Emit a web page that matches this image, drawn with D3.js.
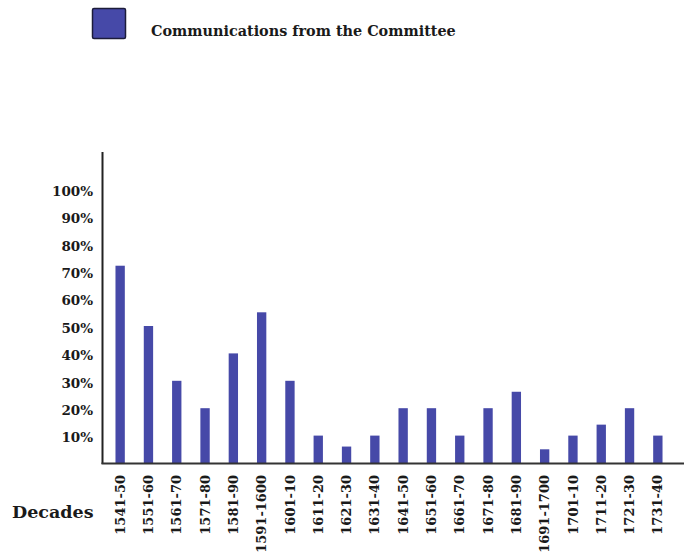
<!DOCTYPE html>
<html>
<head>
<meta charset="utf-8">
<script src="https://cdn.jsdelivr.net/npm/d3@7"></script>
<style>
  html, body { margin: 0; padding: 0; background: #fff; }
  svg { display: block; }
  text { font-family: "DejaVu Serif", "Liberation Serif", serif; font-weight: bold; fill: #1a1a1a; }
</style>
</head>
<body>
<svg id="chart" width="684" height="556"></svg>
<script>
const categories = ["1541-50","1551-60","1561-70","1571-80","1581-90","1591-1600","1601-10","1611-20","1621-30","1631-40",
                    "1641-50","1651-60","1661-70","1671-80","1681-90","1691-1700","1701-10","1711-20","1721-30","1731-40"];
const values = [72, 50, 30, 20, 40, 55, 30, 10, 6, 10, 20, 20, 10, 20, 26, 5, 10, 14, 20, 10];
const yTicks = [10, 20, 30, 40, 50, 60, 70, 80, 90, 100];
const seriesName = "Communications from the Committee";
const xTitle = "Decades";

const svg = d3.select("#chart");
const barColor = "#4649a8";

const y = d3.scaleLinear().domain([0, 100]).range([463, 189]);
const x = d3.scaleBand().domain(categories).range([106, 672]).paddingInner(0.67).paddingOuter(0.335);

// bars
svg.append("g").selectAll("rect").data(values).join("rect")
  .attr("x", (d, i) => x(categories[i]))
  .attr("y", d => y(d))
  .attr("width", x.bandwidth())
  .attr("height", d => y(0) - y(d))
  .attr("fill", barColor);

// axes lines
svg.append("line").attr("x1", 102.5).attr("x2", 102.5).attr("y1", 152).attr("y2", y(0) + 1)
  .attr("stroke", "#222").attr("stroke-width", 2);
svg.append("line").attr("x1", 101.5).attr("x2", 684).attr("y1", y(0) + 0.5).attr("y2", y(0) + 0.5)
  .attr("stroke", "#333").attr("stroke-width", 2);

// y tick labels
svg.append("g").selectAll("text").data(yTicks).join("text")
  .attr("x", 93)
  .attr("y", d => y(d) + 2)
  .attr("dy", "0.35em")
  .attr("text-anchor", "end")
  .attr("font-size", 13.5)
  .text(d => d + "%");

// x tick labels (rotated)
svg.append("g").selectAll("text").data(categories).join("text")
  .attr("transform", d => `translate(${x(d) + x.bandwidth() / 2},475) rotate(-90)`)
  .attr("dy", "0.35em")
  .attr("text-anchor", "end")
  .attr("font-size", 13)
  .text(d => d);

// x title
svg.append("text").attr("x", 12).attr("y", 518).attr("font-size", 17.5).text(xTitle);

// legend
svg.append("rect").attr("x", 92.5).attr("y", 8.5).attr("width", 33).attr("height", 30)
  .attr("fill", barColor).attr("stroke", "#1c1c3a").attr("stroke-width", 1.5).attr("rx", 1.5);
svg.append("text").attr("x", 151).attr("y", 36).attr("font-size", 14.4).text(seriesName);
</script>
</body>
</html>
